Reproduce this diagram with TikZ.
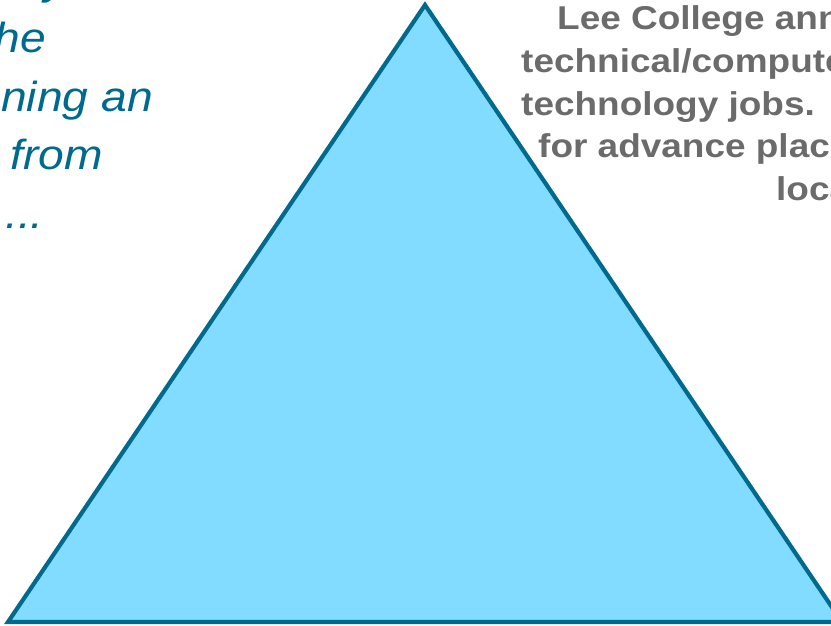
\documentclass[tikz,border=0pt]{standalone}
\usepackage{fontspec}
\usepackage{tikz}
\newfontfamily\slidefont[FakeStretch=1.1]{Liberation Sans}
\newfontfamily\notefont[FakeStretch=1.12]{Liberation Sans}
\definecolor{tridark}{HTML}{006A8E}
\definecolor{trifill}{HTML}{82DCFF}
\definecolor{notegray}{HTML}{6B6B6B}
\tikzset{
  tri/.style={draw=tridark, fill=trifill, line width=4.2pt, line join=miter},
  lefttext/.style={inner sep=0pt, anchor=base east, text=tridark,
    font=\slidefont\itshape\fontsize{42}{50}\selectfont},
  righttext/.style={inner sep=0pt, anchor=base west, text=notegray,
    font=\notefont\bfseries\fontsize{33}{39}\selectfont}
}

\begin{document}
\begin{tikzpicture}[x=1pt,y=-1pt]
\useasboundingbox (0,0) rectangle (831,626);
\clip (0,0) rectangle (831,626);

\draw[tri] (425,5) -- (8,622) -- (842,622) -- cycle;

\node[lefttext] (l0) at (68,-5) {y};
\node[lefttext] (l1) at (46,53) {he};
\node[lefttext] (l2) at (153,112) {ning an};
\node[lefttext] (l3) at (103,169) {from};
\node[lefttext] (l4) at (44,228) {...};

\node[righttext] (r1) at (557,30) {Lee College ann};
\node[righttext] (r2) at (521,72.5) {technical/compute};
\node[righttext] (r3) at (521,115) {technology jobs.};
\node[righttext] (r4) at (538,157.5) {for advance plac};
\node[righttext] (r5) at (776,200) {loca};
\end{tikzpicture}
\end{document}
